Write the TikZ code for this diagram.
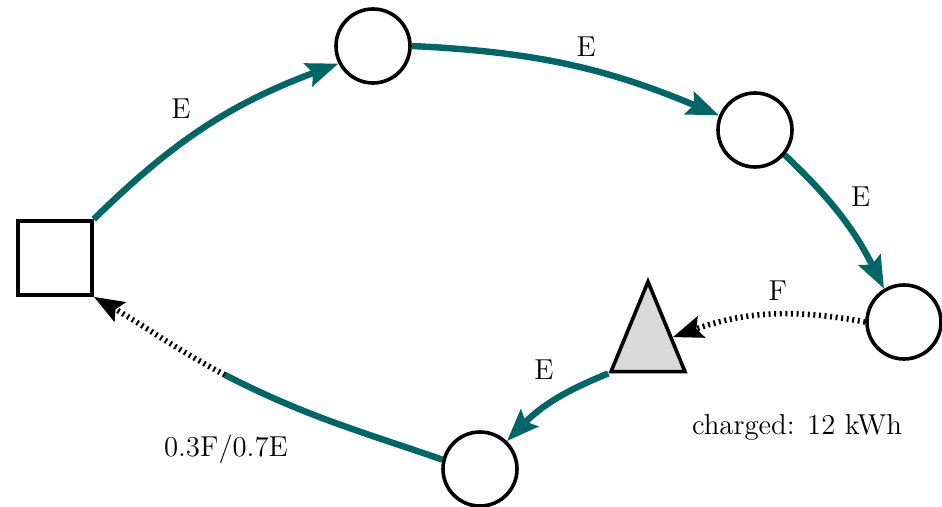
\documentclass[tikz,border=0pt]{standalone}
\usepackage{tikz}
\usetikzlibrary{arrows.meta,positioning,shapes.geometric}
\definecolor{elecTeal}{RGB}{0,102,102}
\definecolor{chargeGray}{RGB}{217,217,217}
\tikzset{
  depot/.style={draw, line width=1.8pt, fill=white, minimum size=37pt, inner sep=0pt},
  stop/.style={draw, circle, line width=1.8pt, fill=white, minimum size=37pt, inner sep=0pt},
  charger/.style={draw, isosceles triangle, shape border rotate=90, isosceles triangle apex angle=45, isosceles triangle stretches, line width=1.8pt, fill=chargeGray, minimum width=37pt, minimum height=45pt, inner sep=0pt},
  road/.style={line width=3.2pt, color=elecTeal},
  elec/.style={road, -{Stealth[length=16pt,width=12pt,inset=2.5pt]}},
  fuel/.style={-{Stealth[length=15pt,width=11pt,inset=2.5pt]}, line width=2.8pt, dash pattern=on 1pt off 1.8pt},
  lbl/.style={font=\Large, text=black}
}

\begin{document}
\begin{tikzpicture}[x=0.5pt,y=0.5pt]
  \useasboundingbox (0,0) rectangle (942,507);

  % Depot, stops and charger
  \node[depot] (depot) at (55,249) {};
  \node[stop] (stopA) at (373,461) {};
  \node[stop] (stopB) at (755,377) {};
  \node[stop] (stopC) at (904,185) {};
  \node[charger, anchor=apex] (charger) at (648,230) {};
  \node[stop] (stopD) at (480,38) {};
  \node[lbl] (charged) at (797,80) {charged: 12 kWh};

  % Route legs
  \draw[elec] (depot.north east) to[bend left=12] node[lbl, pos=0.45, above left, xshift=2.5pt, yshift=2.5pt] {E} (stopA.207);
  \draw[elec] (stopA.east) to[bend left=10] node[lbl, pos=0.6, above, xshift=-5.5pt, yshift=3pt] {E} (stopB.158);
  \draw[elec] (stopB.-40) to[bend left=10] node[lbl, midway, above right] {E} (stopC.121);
  \draw[fuel] (stopC.west) to[bend right=15] node[lbl, midway, above, xshift=5pt, yshift=2.5pt] {F} (charger);
  \draw[elec] (charger.left corner) to[bend right=12] node[lbl, midway, above left, xshift=5pt, yshift=6pt] {E} (stopD.46);

  % Mixed leg back to the depot
  \coordinate (split) at (225,132);
  \draw[road] (stopD.166) to[out=161, in=-27] node[lbl, pos=0.95, below=22pt, xshift=-5.5pt] {0.3F/0.7E} (split);
  \draw[fuel] (split) to[out=152, in=-30] (depot.south east);
\end{tikzpicture}
\end{document}
